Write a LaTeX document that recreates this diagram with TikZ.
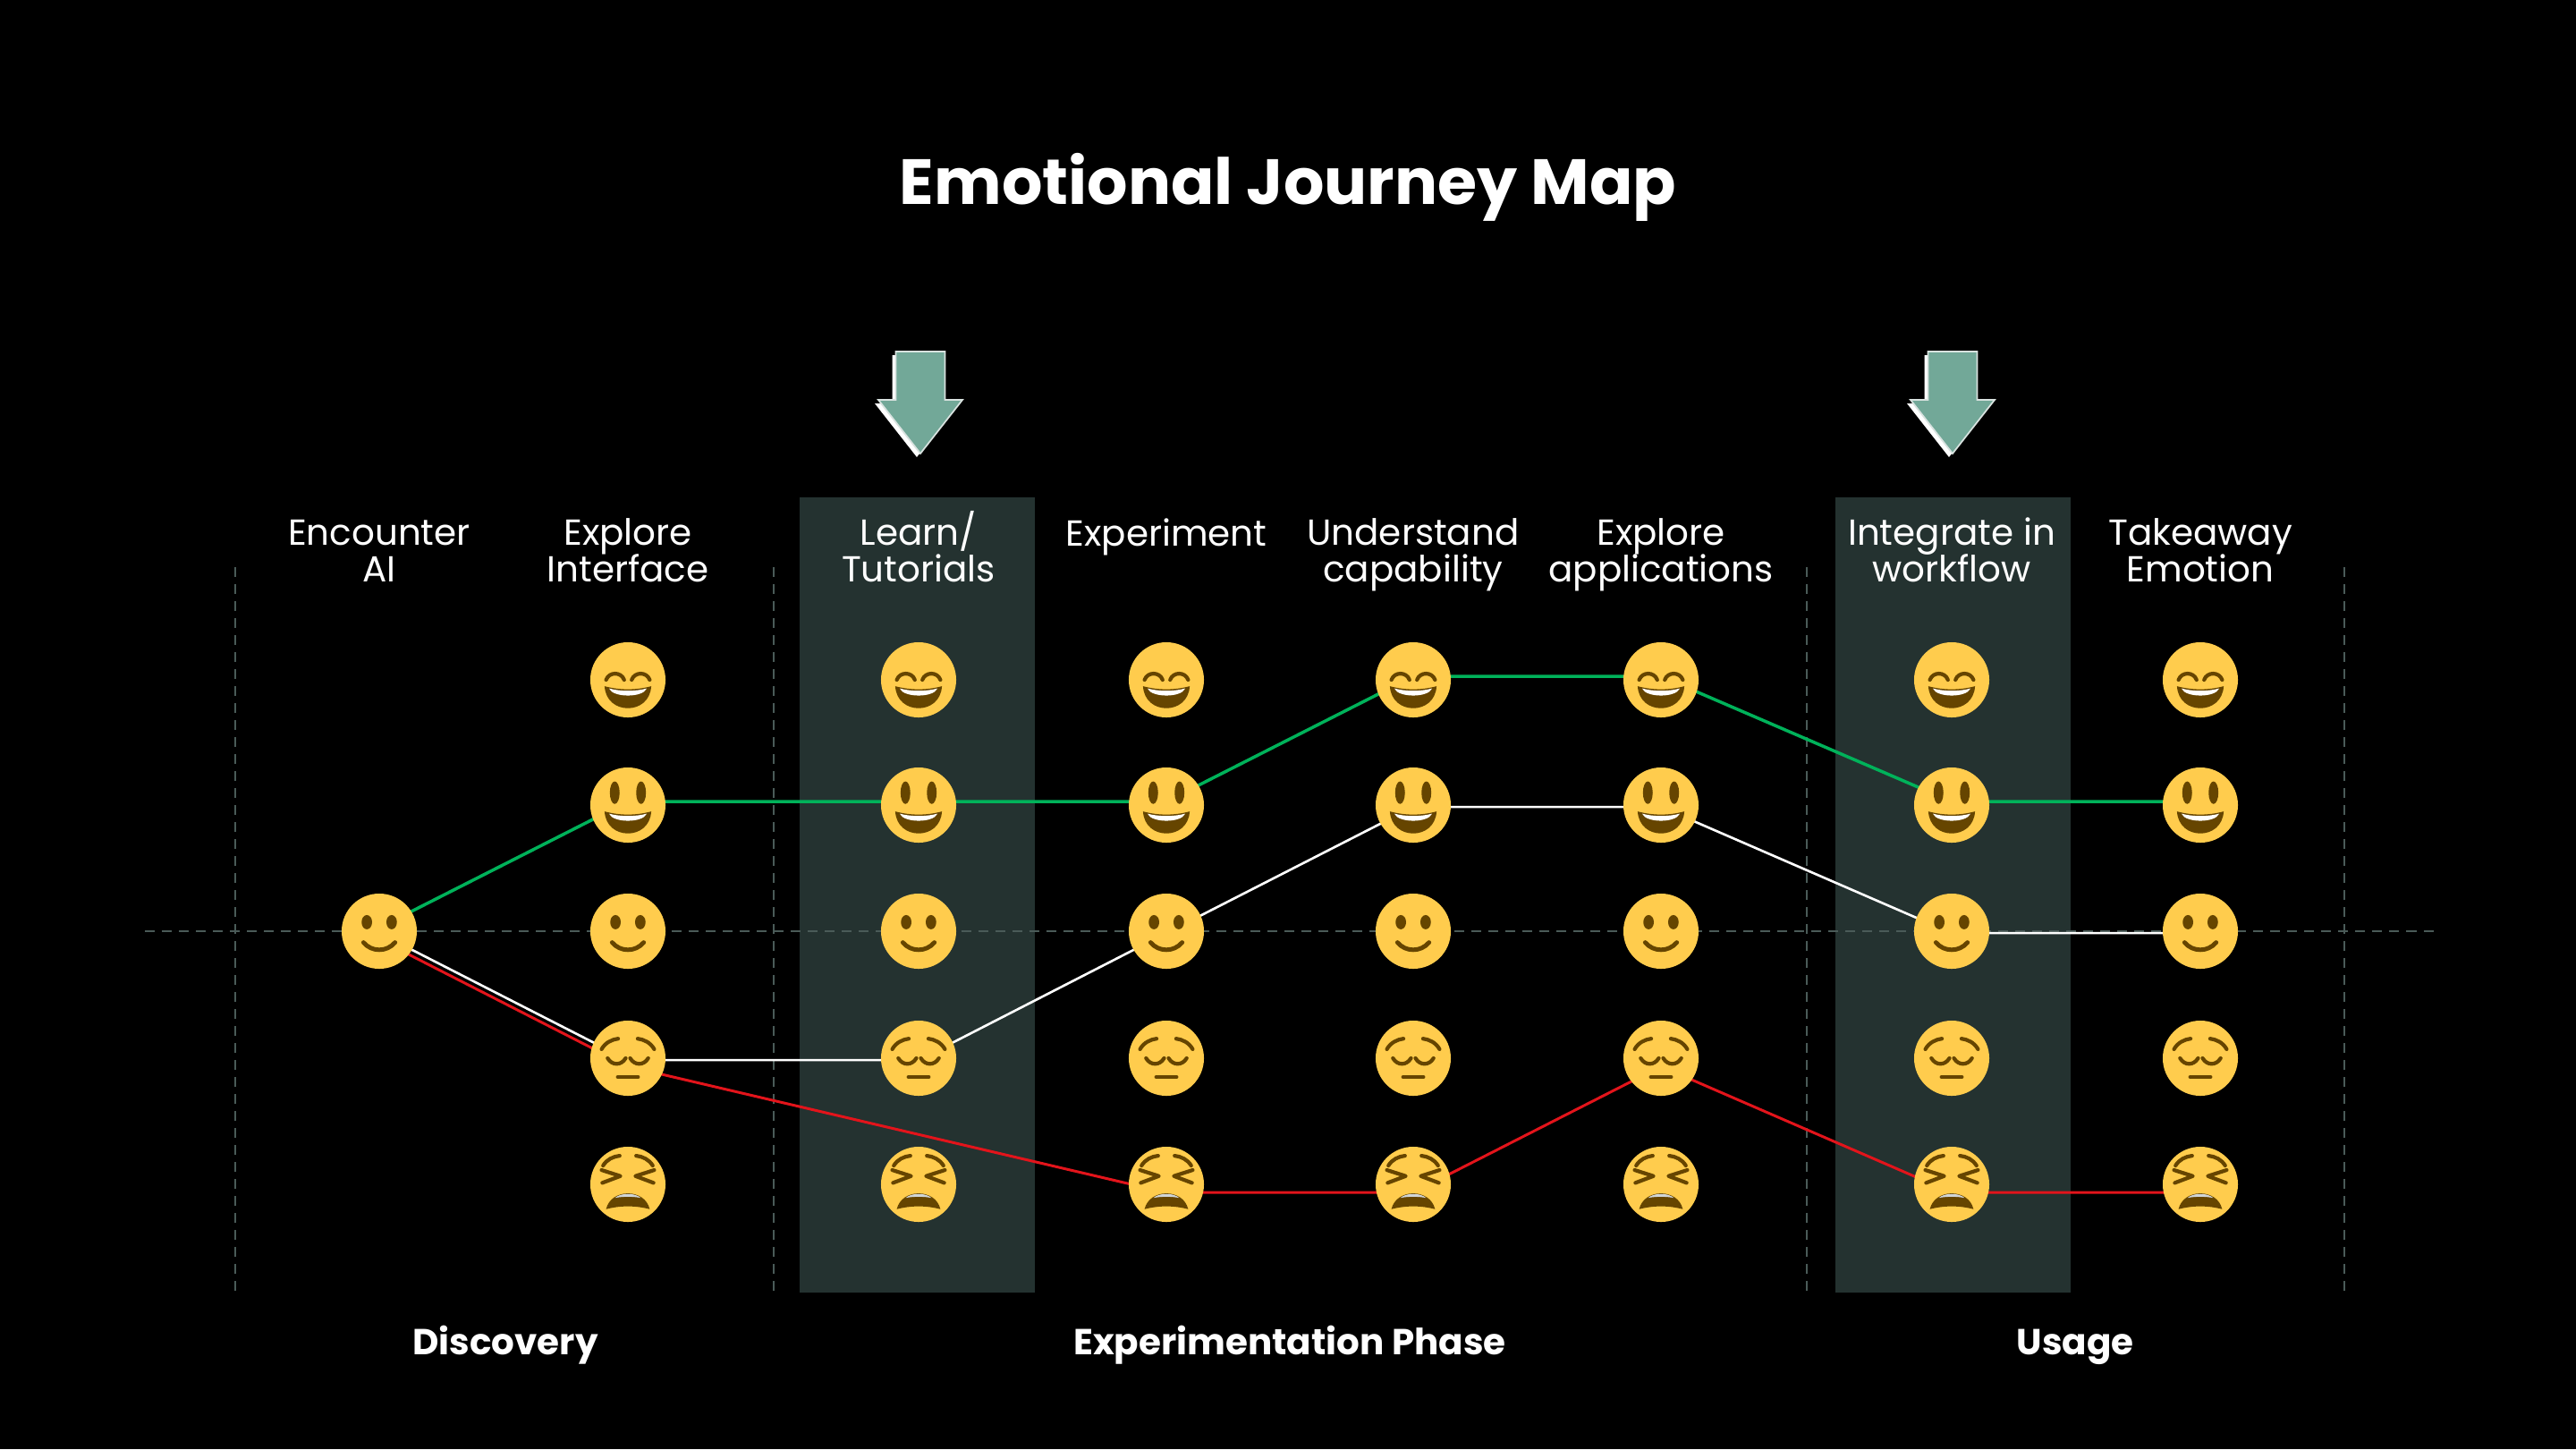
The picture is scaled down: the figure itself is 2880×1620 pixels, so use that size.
\documentclass[tikz,border=0pt]{standalone}
\usepackage{fontspec}
\setmainfont{Poppins}

\definecolor{facefill}{HTML}{FFCC4D}
\definecolor{featbrown}{HTML}{664500}
\definecolor{tiredteeth}{HTML}{D0D5D8}
\definecolor{bandfill}{HTML}{243230}
\definecolor{gridgray}{HTML}{4A5B58}
\definecolor{arrowfill}{HTML}{72A898}
\definecolor{arrowedge}{HTML}{D8E2DF}
\definecolor{happygreen}{HTML}{00B25A}
\definecolor{sadred}{HTML}{E3141B}

\pgfdeclarelayer{bands}
\pgfdeclarelayer{paths}
\pgfsetlayers{bands,paths,main}

\tikzset{
  feature/.style={draw=featbrown, line width=1.2pt, line cap=round},
  gridline/.style={draw=gridgray, line width=0.7pt, dash pattern=on 0.11cm off 0.08cm},
  greenline/.style={draw=happygreen, line width=1pt},
  whiteline/.style={draw=white, line width=0.75pt},
  redline/.style={draw=sadred, line width=0.85pt},
  steptext/.style={text=white, font=\fontsize{11.5}{11.4}\selectfont,
    execute at begin node={\lineskiplimit=-100pt\lineskip=0pt\relax},
    align=center, anchor=base, inner sep=0pt},
  phasetext/.style={text=white, font=\fontsize{11.5}{13}\selectfont\bfseries, anchor=base, inner sep=0pt},
  % open mouth shared by the two grins
  pics/openmouth/.style={code={
    \fill[featbrown] (-0.62,-0.17) .. controls (-0.2,-0.28) and (0.2,-0.28) .. (0.62,-0.17)
      .. controls (0.58,-0.95) and (-0.58,-0.95) .. cycle;
    \fill[white] (-0.5,-0.23) .. controls (-0.2,-0.31) and (0.2,-0.31) .. (0.5,-0.23)
      .. controls (0.4,-0.48) and (-0.4,-0.48) .. cycle;
  }},
  pics/laughfeat/.style={code={
    \begin{scope}[x=0.42cm, y=0.42cm]
      \draw[feature] (-0.58,0) .. controls (-0.5,0.22) and (-0.18,0.22) .. (-0.1,0);
      \draw[feature] (0.1,0) .. controls (0.18,0.22) and (0.5,0.22) .. (0.58,0);
      \pic {openmouth};
    \end{scope}
  }},
  pics/grinfeat/.style={code={
    \begin{scope}[x=0.42cm, y=0.42cm]
      \fill[featbrown] (-0.35,0.33) ellipse [x radius=0.13, y radius=0.3];
      \fill[featbrown] (0.35,0.33) ellipse [x radius=0.13, y radius=0.3];
      \pic {openmouth};
    \end{scope}
  }},
  pics/smilefeat/.style={code={
    \begin{scope}[x=0.42cm, y=0.42cm]
      \fill[featbrown] (-0.33,0.24) ellipse [x radius=0.14, y radius=0.19];
      \fill[featbrown] (0.33,0.24) ellipse [x radius=0.14, y radius=0.19];
      \draw[feature, line width=1.4pt] (-0.42,-0.3) .. controls (-0.2,-0.56) and (0.2,-0.56) .. (0.42,-0.3);
    \end{scope}
  }},
  pics/pensivefeat/.style={code={
    \begin{scope}[x=0.42cm, y=0.42cm]
      \draw[feature] (-0.7,0.24) .. controls (-0.6,0.42) and (-0.42,0.5) .. (-0.26,0.52);
      \draw[feature] (0.7,0.24) .. controls (0.6,0.42) and (0.42,0.5) .. (0.26,0.52);
      \draw[feature] (-0.54,0) .. controls (-0.42,-0.2) and (-0.18,-0.2) .. (-0.06,0);
      \draw[feature] (0.06,0) .. controls (0.18,-0.2) and (0.42,-0.2) .. (0.54,0);
      \draw[feature] (-0.27,-0.5) -- (0.27,-0.5);
    \end{scope}
  }},
  pics/tiredfeat/.style={code={
    \begin{scope}[x=0.42cm, y=0.42cm]
      \draw[feature] (-0.66,0.5) .. controls (-0.56,0.66) and (-0.4,0.74) .. (-0.22,0.76);
      \draw[feature] (0.66,0.5) .. controls (0.56,0.66) and (0.4,0.74) .. (0.22,0.76);
      \draw[feature, line join=round] (-0.7,0.38) -- (-0.2,0.22) -- (-0.68,0.04);
      \draw[feature, line join=round] (0.7,0.38) -- (0.2,0.22) -- (0.68,0.04);
      \fill[featbrown] (-0.58,-0.66) .. controls (-0.45,-0.1) and (0.45,-0.1) .. (0.58,-0.66)
        .. controls (0.2,-0.56) and (-0.2,-0.56) .. cycle;
      \fill[tiredteeth] (-0.34,-0.36) .. controls (-0.2,-0.22) and (0.2,-0.22) .. (0.34,-0.36)
        .. controls (0.15,-0.32) and (-0.15,-0.32) .. cycle;
    \end{scope}
  }},
  pics/downarrow/.style={code={
    \fill[white, shift={(-4,4)}] (-27.5,0) -- (27.5,0) -- (27.5,54) -- (47,54) -- (0,114)
      -- (-47,54) -- (-27.5,54) -- cycle;
    \filldraw[fill=arrowfill, draw=arrowedge, line width=0.5pt] (-27.5,0) -- (27.5,0) -- (27.5,54)
      -- (47,54) -- (0,114) -- (-47,54) -- (-27.5,54) -- cycle;
  }},
  face/.style={circle, fill=facefill, minimum size=0.84cm, inner sep=0pt, outer sep=0pt},
  laughing/.style={face, path picture={\pic at (path picture bounding box.center) {laughfeat};}},
  grinning/.style={face, path picture={\pic at (path picture bounding box.center) {grinfeat};}},
  smiling/.style={face, path picture={\pic at (path picture bounding box.center) {smilefeat};}},
  pensive/.style={face, path picture={\pic at (path picture bounding box.center) {pensivefeat};}},
  tired/.style={face, path picture={\pic at (path picture bounding box.center) {tiredfeat};}},
}

\begin{document}
\begin{tikzpicture}[x=0.01cm, y=-0.01cm]

      \begin{pgfonlayer}{bands}
        \fill[black] (0,0) rectangle (2880,1620);
        \fill[bandfill] (894,556) rectangle (1157,1445);
        \fill[bandfill] (2052,556) rectangle (2315,1445);
        \begin{scope}[gridline]
          \draw (263,634) -- (263,1445);
          \draw (865,634) -- (865,1445);
          \draw (2020,634) -- (2020,1445);
          \draw (2621,634) -- (2621,1445);
          \draw (162,1041) -- (2722,1041);
        \end{scope}
      \end{pgfonlayer}

      \pic at (1029,393) {downarrow};
      \pic at (2183,393) {downarrow};

      \node[text=white, font=\fontsize{20.3}{24}\selectfont\bfseries, anchor=base, inner sep=0pt]
        (title) at (1440,228) {Emotional Journey Map};

      \begin{scope}[every node/.style={steptext}]
        \node (ta) at (424,650)  {Encounter\\AI};
        \node (tb) at (702,650)  {Explore\\Interface};
        \node (tc) at (1027,650) {Learn/\\Tutorials};
        \node (td) at (1304,610) {Experiment};
        \node (te) at (1580,650) {Understand\\capability};
        \node (tf) at (1857,650) {Explore\\applications};
        \node (tg) at (2182,650) {Integrate in\\workflow};
        \node (th) at (2460,650) {Takeaway\\Emotion};
      \end{scope}

      \node[smiling] (a3) at (424,1041) {};

      \node[laughing] (b1) at (702,760)  {};
      \node[grinning] (b2) at (702,900)  {};
      \node[smiling]  (b3) at (702,1041) {};
      \node[pensive]  (b4) at (702,1183) {};
      \node[tired]    (b5) at (702,1324) {};

      \node[laughing] (c1) at (1027,760)  {};
      \node[grinning] (c2) at (1027,900)  {};
      \node[smiling]  (c3) at (1027,1041) {};
      \node[pensive]  (c4) at (1027,1183) {};
      \node[tired]    (c5) at (1027,1324) {};

      \node[laughing] (d1) at (1304,760)  {};
      \node[grinning] (d2) at (1304,900)  {};
      \node[smiling]  (d3) at (1304,1041) {};
      \node[pensive]  (d4) at (1304,1183) {};
      \node[tired]    (d5) at (1304,1324) {};

      \node[laughing] (e1) at (1580,760)  {};
      \node[grinning] (e2) at (1580,900)  {};
      \node[smiling]  (e3) at (1580,1041) {};
      \node[pensive]  (e4) at (1580,1183) {};
      \node[tired]    (e5) at (1580,1324) {};

      \node[laughing] (f1) at (1857,760)  {};
      \node[grinning] (f2) at (1857,900)  {};
      \node[smiling]  (f3) at (1857,1041) {};
      \node[pensive]  (f4) at (1857,1183) {};
      \node[tired]    (f5) at (1857,1324) {};

      \node[laughing] (g1) at (2182,760)  {};
      \node[grinning] (g2) at (2182,900)  {};
      \node[smiling]  (g3) at (2182,1041) {};
      \node[pensive]  (g4) at (2182,1183) {};
      \node[tired]    (g5) at (2182,1324) {};

      \node[laughing] (h1) at (2460,760)  {};
      \node[grinning] (h2) at (2460,900)  {};
      \node[smiling]  (h3) at (2460,1041) {};
      \node[pensive]  (h4) at (2460,1183) {};
      \node[tired]    (h5) at (2460,1324) {};

      \begin{pgfonlayer}{paths}
        \draw[greenline] ([yshift=1.1pt]a3.center) -- ([yshift=1.1pt]b2.center) -- ([yshift=1.1pt]c2.center)
          -- ([yshift=1.1pt]d2.center) -- ([yshift=1.1pt]e1.center) -- ([yshift=1.1pt]f1.center)
          -- ([yshift=1.1pt]g2.center) -- ([yshift=1.1pt]h2.center);
        \draw[whiteline] ([yshift=-0.6pt]a3.center) -- ([yshift=-0.6pt]b4.center) -- ([yshift=-0.6pt]c4.center)
          -- ([yshift=-0.6pt]d3.center) -- ([yshift=-0.6pt]e2.center) -- ([yshift=-0.6pt]f2.center)
          -- ([yshift=-0.6pt]g3.center) -- ([yshift=-0.6pt]h3.center);
        \draw[redline] ([yshift=-2.6pt]a3.center) -- ([yshift=-2.6pt]b4.center) -- ([yshift=-2.6pt]d5.center)
          -- ([yshift=-2.6pt]e5.center) -- ([yshift=-2.6pt]f4.center) -- ([yshift=-2.6pt]g5.center)
          -- ([yshift=-2.6pt]h5.center);
      \end{pgfonlayer}

      \begin{scope}[every node/.style={phasetext}]
        \node (disc)  at (565,1514)  {Discovery};
        \node (expt)  at (1442,1514) {Experimentation Phase};
        \node (usage) at (2320,1514) {Usage};
      \end{scope}

    \end{tikzpicture}
\end{document}
